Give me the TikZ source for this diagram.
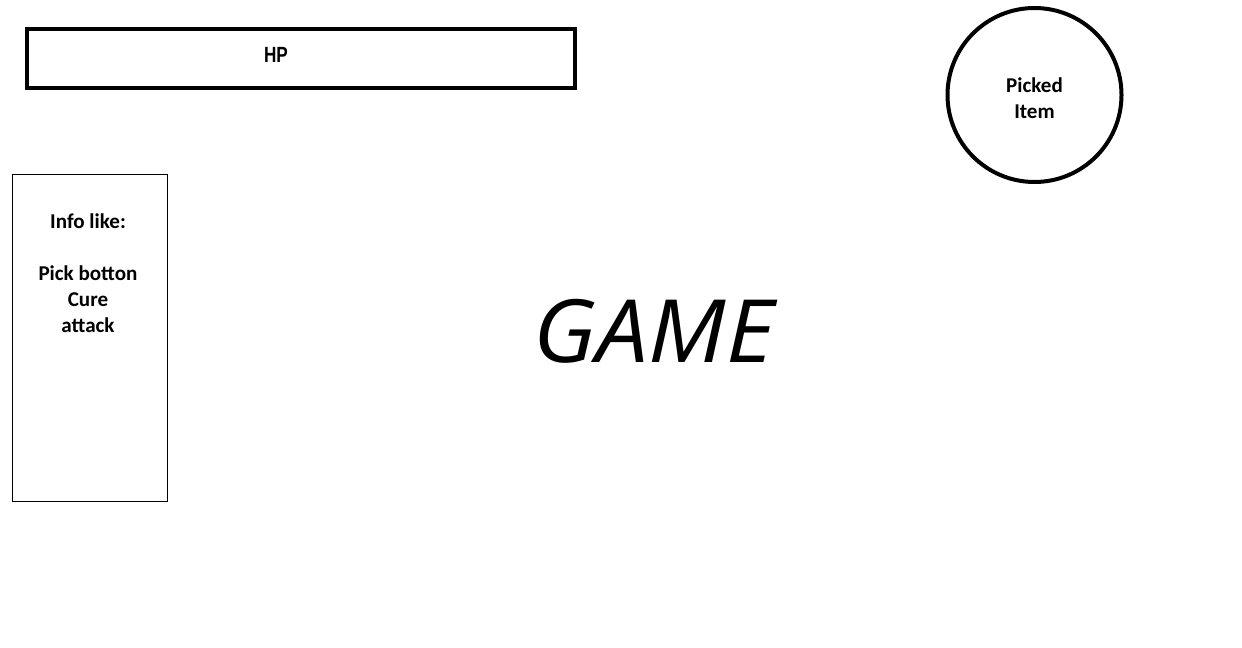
\documentclass[tikz,border=0pt]{standalone}
\usepackage{fontspec}
\setmainfont{Carlito}
\newfontfamily\hpfont[FakeStretch=0.78]{Liberation Sans}
\newfontfamily\gamefont[FakeStretch=1.06]{Open Sans}
\begin{document}
\begin{tikzpicture}[x=0.75pt,y=-0.75pt,
  thickbox/.style={draw=black,line width=3pt,minimum width=548*0.75pt,minimum height=59*0.75pt,inner sep=0pt},
  thinbox/.style={draw=black,line width=0.75pt,minimum width=155*0.75pt,minimum height=326*0.75pt,inner sep=0pt},
  itemcircle/.style={draw=black,line width=3pt,circle,minimum size=174*0.75pt,inner sep=0pt},
  label/.style={font=\fontsize{15.8pt}{19.5pt}\selectfont\bfseries,align=center,inner sep=0pt}]
\useasboundingbox (0,0) rectangle (1242,648);
\fill[white] (0,0) rectangle (1242,648);
\node[thickbox] (hp) at (301,58.5) {};
\node[font=\hpfont\fontsize{16.5pt}{19pt}\selectfont\bfseries,inner sep=0pt] (hptext) at (276,54.5) {HP};
\node[itemcircle] (item) at (1034.5,95) {};
\node[label] (itemtext) at (1034.5,98) {Picked\\Item};
\node[thinbox] (info) at (90,338) {};
\node[label,anchor=north] (infotext) at (88,213.5) {Info like:\\[19.5pt]Pick botton\\Cure\\attack};
\node[font=\gamefont\fontsize{65.5pt}{70pt}\selectfont\itshape,inner sep=0pt] (game) at (654,331) {GAME};
\end{tikzpicture}
\end{document}
